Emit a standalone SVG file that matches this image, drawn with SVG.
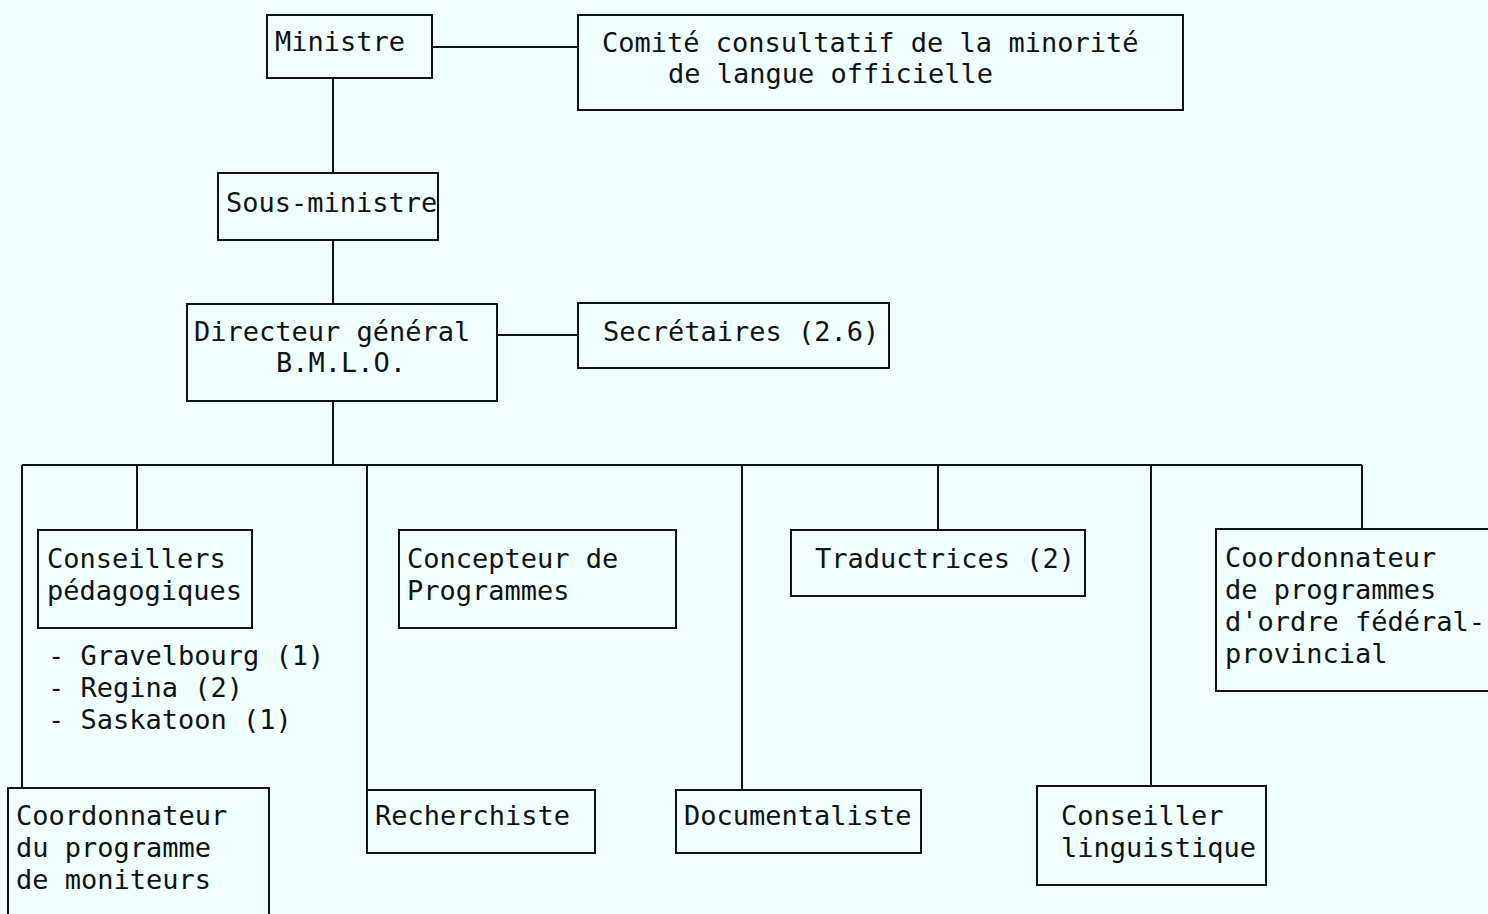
<svg xmlns="http://www.w3.org/2000/svg" width="1488" height="914" viewBox="0 0 1488 914">
<style>
.b{fill:none;stroke:#111;stroke-width:2}
.c{fill:none;stroke:#111;stroke-width:2}
text{font-family:"DejaVu Sans Mono","Liberation Mono",monospace;font-size:27px;fill:#111}
</style>
<rect width="1488" height="914" fill="#f0ffff"/>
<g id="connectors">
<path class="c" d="M432 47H578"/>
<path class="c" d="M333 78V173"/>
<path class="c" d="M333 240V304"/>
<path class="c" d="M497 335H578"/>
<path class="c" d="M333 401V465"/>
<path class="c" d="M22 465H1362"/>
<path class="c" d="M22 465V788"/>
<path class="c" d="M137 465V530"/>
<path class="c" d="M367 465V790"/>
<path class="c" d="M742 465V790"/>
<path class="c" d="M938 465V530"/>
<path class="c" d="M1151 465V786"/>
<path class="c" d="M1362 465V529"/>
</g>
<g id="ministre">
<rect class="b" x="267" y="15" width="165" height="63"/>
<text x="275" y="51">Ministre</text>
</g>
<g id="comite">
<rect class="b" x="578" y="15" width="605" height="95"/>
<text x="602" y="52">Comité consultatif de la minorité</text>
<text x="668" y="83">de langue officielle</text>
</g>
<g id="sous-ministre">
<rect class="b" x="218" y="173" width="220" height="67"/>
<text x="226" y="212">Sous-ministre</text>
</g>
<g id="directeur">
<rect class="b" x="187" y="304" width="310" height="97"/>
<text x="194" y="341">Directeur général</text>
<text x="276" y="372">B.M.L.O.</text>
</g>
<g id="secretaires">
<rect class="b" x="578" y="303" width="311" height="65"/>
<text x="603" y="341">Secrétaires (2.6)</text>
</g>
<g id="conseillers">
<rect class="b" x="38" y="530" width="214" height="98"/>
<text x="47" y="568">Conseillers</text>
<text x="47" y="600">pédagogiques</text>
<text x="48" y="665">- Gravelbourg (1)</text>
<text x="48" y="697">- Regina (2)</text>
<text x="48" y="729">- Saskatoon (1)</text>
</g>
<g id="coord-moniteurs">
<rect class="b" x="8" y="788" width="261" height="140"/>
<text x="16" y="825">Coordonnateur</text>
<text x="16" y="857">du programme</text>
<text x="16" y="889">de moniteurs</text>
</g>
<g id="concepteur">
<rect class="b" x="399" y="530" width="277" height="98"/>
<text x="407" y="568">Concepteur de</text>
<text x="407" y="600">Programmes</text>
</g>
<g id="recherchiste">
<rect class="b" x="367" y="790" width="228" height="63"/>
<text x="375" y="825">Recherchiste</text>
</g>
<g id="documentaliste">
<rect class="b" x="676" y="790" width="245" height="63"/>
<text x="684" y="825">Documentaliste</text>
</g>
<g id="traductrices">
<rect class="b" x="791" y="530" width="294" height="66"/>
<text x="815" y="568">Traductrices (2)</text>
</g>
<g id="conseiller-linguistique">
<rect class="b" x="1037" y="786" width="229" height="99"/>
<text x="1061" y="825">Conseiller</text>
<text x="1061" y="857">linguistique</text>
</g>
<g id="coord-federal">
<rect class="b" x="1216" y="529" width="290" height="162"/>
<text x="1225" y="567">Coordonnateur</text>
<text x="1225" y="599">de programmes</text>
<text x="1225" y="631">d'ordre fédéral-</text>
<text x="1225" y="663">provincial</text>
</g>
</svg>
